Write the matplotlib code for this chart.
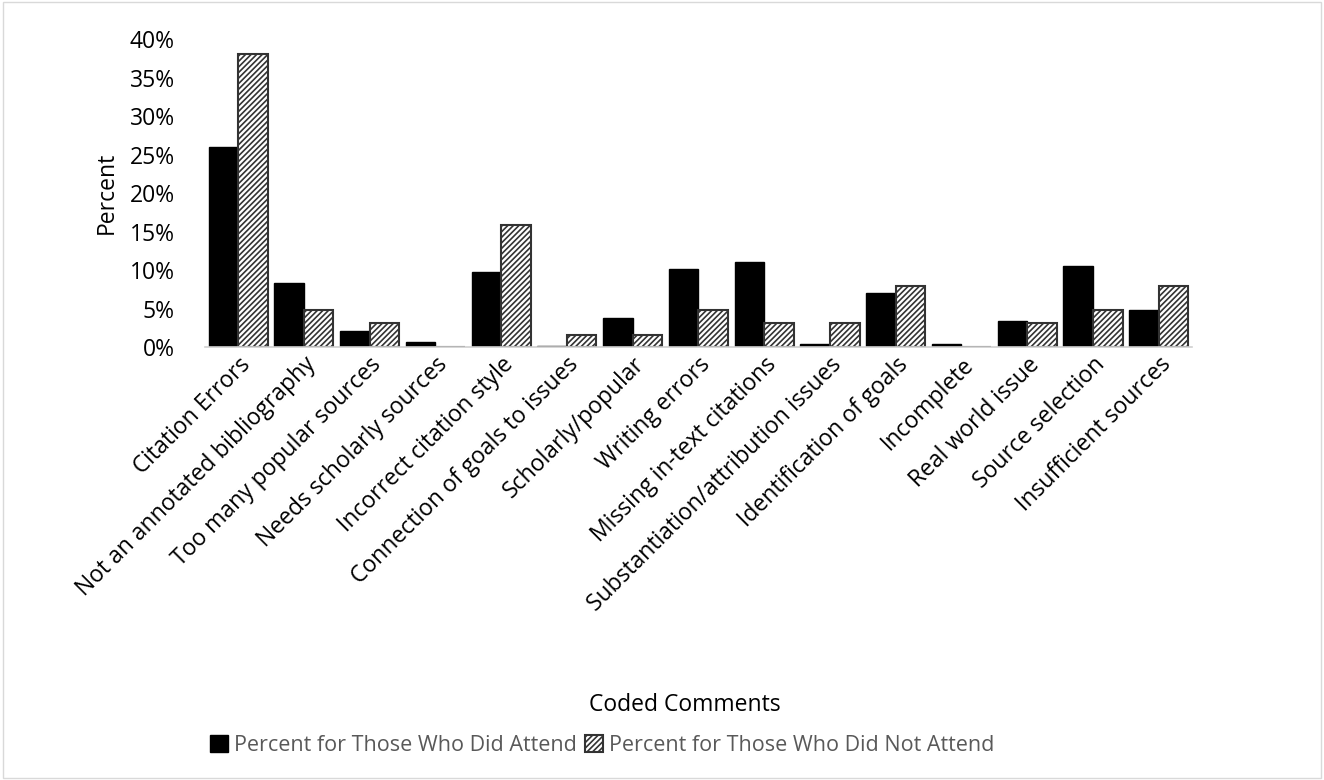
import matplotlib.pyplot as plt
import numpy as np
from matplotlib.ticker import PercentFormatter

plt.rcParams['font.family'] = ['Open Sans', 'DejaVu Sans']
plt.rcParams['hatch.linewidth'] = 1.2

categories = ['Citation Errors', 'Not an annotated bibliography', 'Too many popular sources',
              'Needs scholarly sources', 'Incorrect citation style', 'Connection of goals to issues',
              'Scholarly/popular', 'Writing errors', 'Missing in-text citations',
              'Substantiation/attribution issues', 'Identification of goals', 'Incomplete',
              'Real world issue', 'Source selection', 'Insufficient sources']
attended = [26.0, 8.3, 2.1, 0.6, 9.8, 0.2, 3.8, 10.1, 11.1, 0.4, 7.0, 0.4, 3.4, 10.5, 4.8]
not_attended = [38.1, 4.76, 3.17, 0.0, 15.87, 1.59, 1.59, 4.76, 3.17, 3.17, 7.94, 0.0, 3.17, 4.76, 7.94]
labels = ['Percent for Those Who Did Attend', 'Percent for Those Who Did Not Attend']

fig = plt.figure(figsize=(13.24, 7.8), dpi=100)
ax = fig.add_axes([0.155, 0.555, 0.745, 0.395])

x = np.arange(len(categories))
w = 0.45
ax.bar(x - w / 2, attended, w, color='black', edgecolor='black', linewidth=1, label=labels[0])
ax.bar(x + w / 2, not_attended, w, color='white', edgecolor='#333333', hatch='//////',
       linewidth=1.5, label=labels[1])

ax.set_xlim(-0.5, len(categories) - 0.5)
ax.set_ylim(0, 40)
ax.set_yticks(range(0, 41, 5))
ax.yaxis.set_major_formatter(PercentFormatter(decimals=0))
ax.set_xticks(x)
ax.set_xticklabels(categories, rotation=45, ha='right', rotation_mode='anchor')
ax.tick_params(axis='both', length=0, labelsize=16.5, colors='black')
ax.tick_params(axis='x', pad=4)
ax.tick_params(axis='y', pad=22)
for s in ['top', 'right', 'left']:
    ax.spines[s].set_visible(False)
ax.spines['bottom'].set_color('#d0d0d0')
ax.spines['bottom'].set_linewidth(1.2)

ax.set_ylabel('Percent', fontsize=16.5, labelpad=8)
fig.text(0.517, 0.096, 'Coded Comments', ha='center', va='center', fontsize=16.5)
fig.legend(loc='center', bbox_to_anchor=(0.455, 0.044), ncol=2, frameon=False,
           fontsize=15.5, handlelength=0.8, handleheight=0.8, handletextpad=0.3,
           columnspacing=0.4, labelcolor='#595959')

border = plt.Rectangle((0.002, 0.002), 0.996, 0.996, transform=fig.transFigure,
                       fill=False, edgecolor='#d9d9d9', linewidth=1)
fig.patches.append(border)

fig.savefig('out.png', dpi=100)
